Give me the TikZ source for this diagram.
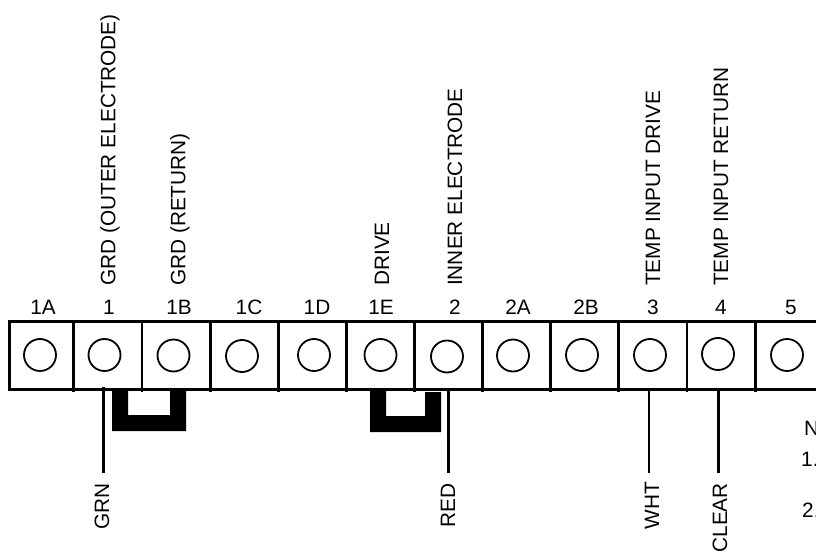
\documentclass[tikz,border=0pt]{standalone}
\usepackage{fontspec}
\setmainfont{Liberation Sans}
\tikzset{
  x=1bp,y=-1bp,
  lab/.style={font=\fontsize{20.8bp}{24bp}\selectfont,inner sep=0pt,text=black},
  vlabup/.style={lab,rotate=90,anchor=west},
  vlabdn/.style={lab,rotate=90,anchor=east},
  term/.style={circle,draw=black,line width=1.8bp,minimum size=32bp,inner sep=0pt},
  strip/.style={line width=3bp,draw=black},
  divider/.style={line width=2.8bp,draw=black},
  wire/.style={line width=2.8bp,draw=black},
  jumper/.style={fill=black,draw=none}
}
\begin{document}
\begin{tikzpicture}
\useasboundingbox (0,0) rectangle (816,552);
\clip (0,0) rectangle (816,552);
\fill[white] (0,0) rectangle (816,552);
% strip
\draw[strip] (816,321.5) -- (9.5,321.5) -- (9.5,389) -- (816,389);
\foreach \x in {73.5,142,210.5,278.5,346.5,414.5,482.5,550.5,618.5,687,755.5}
  \draw[divider] (\x,321.5) -- (\x,391.5);
% terminals
\node[term] (t1A) at (40,355) {};
\node[term] (t1) at (104.5,355) {};
\node[term] (t1B) at (173.5,355.5) {};
\node[term] (t1C) at (242,356) {};
\node[term] (t1D) at (314,355) {};
\node[term] (t1E) at (380.5,355) {};
\node[term] (t2) at (447,356.5) {};
\node[term] (t2A) at (513,355.5) {};
\node[term] (t2B) at (582,355) {};
\node[term] (t3) at (650,355) {};
\node[term] (t4) at (718,354) {};
\node[term] (t5) at (787,355) {};
% pin labels
\node[lab] (p1A) at (43,307) {1A};
\node[lab] (p1) at (109,307) {1};
\node[lab] (p1B) at (179,307) {1B};
\node[lab] (p1C) at (249,307) {1C};
\node[lab] (p1D) at (317,307) {1D};
\node[lab] (p1E) at (381,307) {1E};
\node[lab] (p2) at (455,307) {2};
\node[lab] (p2A) at (518,307) {2A};
\node[lab] (p2B) at (586,307) {2B};
\node[lab] (p3) at (653,307) {3};
\node[lab] (p4) at (721,307) {4};
\node[lab] (p5) at (791,307) {5};
% top labels
\node[vlabup] (a1) at (110,286) {GRD (OUTER ELECTRODE)};
\node[vlabup] (a1B) at (180,286) {GRD (RETURN)};
\node[vlabup] (a1E) at (382,286) {DRIVE};
\node[vlabup] (a2) at (455,286) {INNER ELECTRODE};
\node[vlabup] (a3) at (653,286) {TEMP INPUT DRIVE};
\node[vlabup] (a4) at (721,286) {TEMP INPUT RETURN};
% jumpers
\fill[jumper] (112,389) -- (128,389) -- (128,415) -- (170,415) -- (170,389) -- (186,389) -- (186,431) -- (112,431) -- cycle;
\fill[jumper] (370,389) -- (386,389) -- (386,416) -- (425,416) -- (425,392) -- (441,392) -- (441,432) -- (370,432) -- cycle;
% wires
\coordinate (w1) at (103.5,387);
\coordinate (w2) at (448.5,390);
\coordinate (w3) at (649,390);
\coordinate (w4) at (718.5,390);
\coordinate (e1) at (103.5,473);
\coordinate (e2) at (448.5,473);
\coordinate (e3) at (649,473);
\coordinate (e4) at (718.5,473);
\node[vlabdn] (gn) at (102,483) {GRN};
\node[vlabdn] (rd) at (448,483) {RED};
\node[vlabdn] (wh) at (652,482) {WHT};
\node[vlabdn] (cr) at (720,483) {CLEAR};
\draw[wire] (w1) -- (e1);
\draw[wire] (w2) -- (e2);
\draw[wire] (w3) -- (e3);
\draw[wire] (w4) -- (e4);
% notes
\node[lab,anchor=west] (n0) at (804,428) {N};
\node[lab,anchor=west] (n1) at (801,459) {1.};
\node[lab,anchor=west] (n2) at (802,510) {2.};
\end{tikzpicture}
\end{document}
